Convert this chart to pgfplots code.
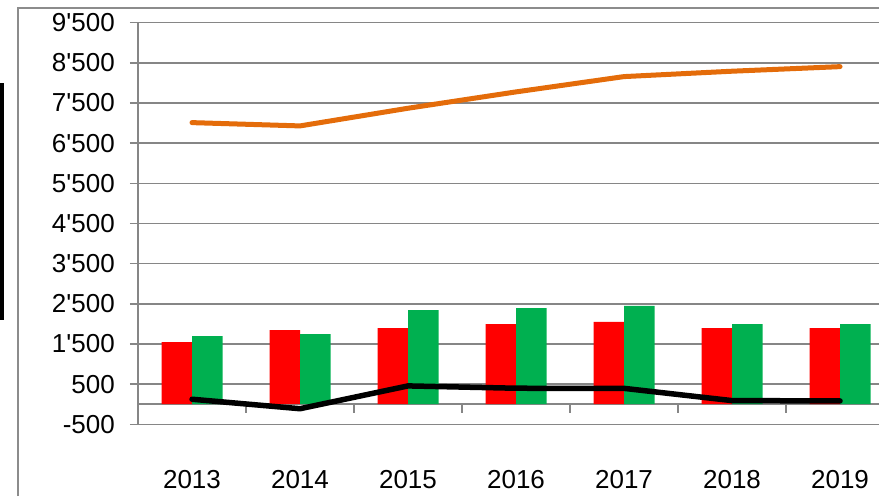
\documentclass[border=0pt]{standalone}
\usepackage{pgfplots}
\pgfplotsset{compat=1.18}
\usepackage{fontspec}
\setmainfont{Liberation Sans}[Ligatures=TeXOff]
\definecolor{gridgray}{RGB}{134,134,134}
\definecolor{framegray}{RGB}{140,140,140}
\definecolor{xred}{RGB}{255,0,0}
\definecolor{xgreen}{RGB}{0,176,80}
\definecolor{xorange}{RGB}{228,108,10}
\begin{document}
\begin{tikzpicture}
\draw[framegray, line width=2pt] (18pt,0pt) -- (18pt,488pt) -- (879pt,488pt);
\fill[black] (0pt,176pt) rectangle (4pt,413pt);
\begin{axis}[
  at={(138pt,71.7pt)}, anchor=south west,
  scale only axis, width=741pt, height=401.6pt,
  xmin=-0.5, xmax=6.361, ymin=-500, ymax=9500,
  axis lines=left, axis line style={-, gridgray, line width=1.5pt},
  xtick={0,1,2,3,4,5,6},
  xticklabels={2013,2014,2015,2016,2017,2018,2019},
  x tick style={draw=none},
  ytick={-500,500,1500,2500,3500,4500,5500,6500,7500,8500,9500},
  yticklabels={-500,500,1'500,2'500,3'500,4'500,5'500,6'500,7'500,8'500,9'500},
  y tick style={gridgray, line width=1.5pt},
  tick align=outside, major tick length=8pt,
  ymajorgrids, major grid style={gridgray, line width=1.5pt},
  tick label style={font=\fontsize{26}{26}\selectfont, text=black},
  yticklabel style={anchor=east, inner sep=0pt, xshift=-15pt},
  xticklabel style={anchor=north, inner sep=0pt, yshift=-38pt},
  clip=false,
]
% x axis line at 0
\addplot[gridgray, line width=1.5pt, no markers] coordinates {(-0.5,0) (6.361,0)};
% category boundary ticks
\addplot[gridgray, line width=1.5pt, ycomb, no markers] coordinates {(0.5,-210) (1.5,-210) (2.5,-210) (3.5,-210) (4.5,-210) (5.5,-210)};
% bars
\addplot[ybar, bar width=30.5pt, bar shift=-15.25pt, fill=xred, draw=none] coordinates {
(0,1545) (1,1842) (2,1892) (3,1992) (4,2049) (5,1892) (6,1892)};
\addplot[ybar, bar width=30.5pt, bar shift=15.25pt, fill=xgreen, draw=none] coordinates {
(0,1693) (1,1743) (2,2340) (3,2390) (4,2448) (5,1992) (6,1992)};
% lines
\addplot[xorange, line width=5pt, line cap=round, line join=round, no markers] coordinates {
(0,7012) (1,6930) (2,7370) (3,7777) (4,8158) (5,8292) (6,8406)};
\addplot[black, line width=5.5pt, line cap=round, line join=round, no markers] coordinates {
(0,124) (1,-112) (2,456) (3,398) (4,395) (5,90) (6,82)};
\end{axis}
\pgfresetboundingbox
\path[use as bounding box] (0,0) rectangle (879pt,496pt);
\end{tikzpicture}
\end{document}
